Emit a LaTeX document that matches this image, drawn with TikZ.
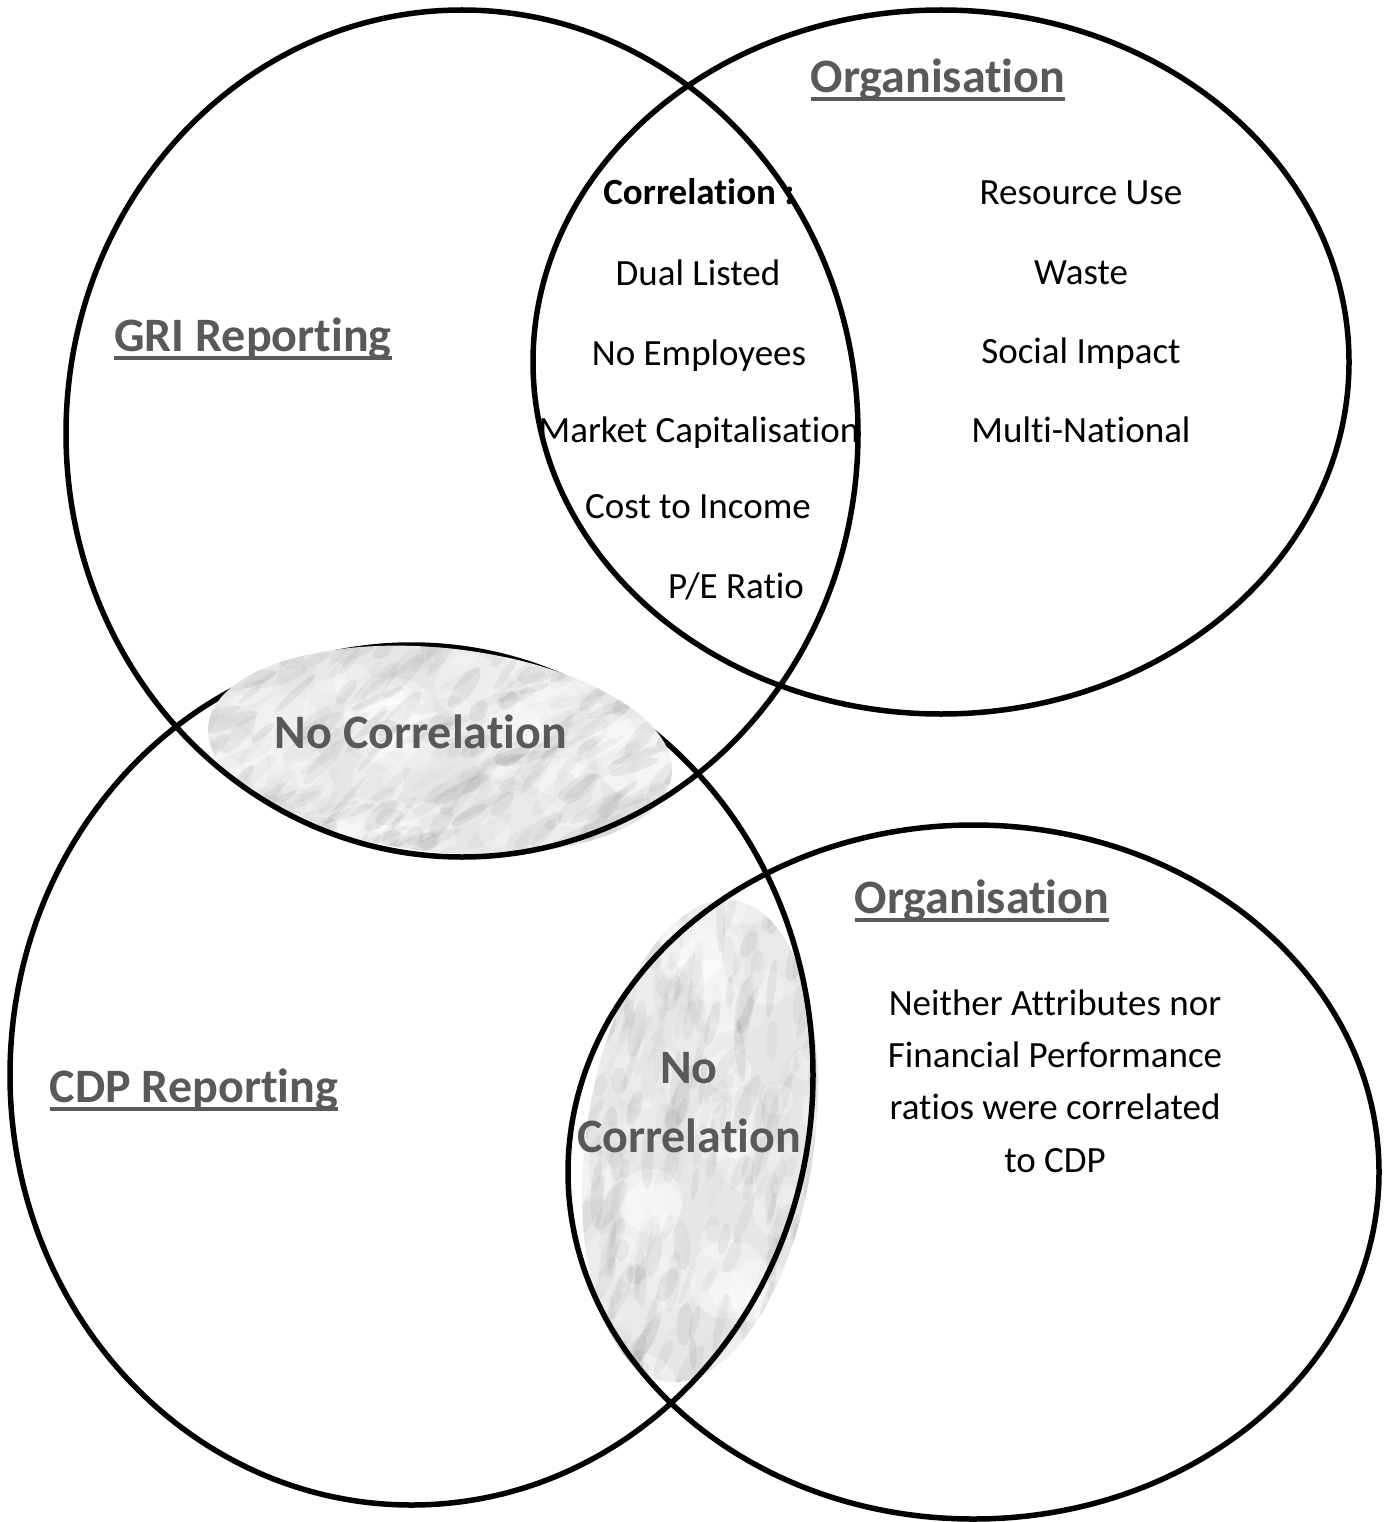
\documentclass[tikz,border=0pt]{standalone}
\usepackage{fontspec}
\setmainfont{Carlito}[Ligatures={NoCommon,NoContextual,NoRare},Contextuals=NoAlternate]
\definecolor{titlegray}{HTML}{595959}
\definecolor{blobgray}{HTML}{E6E6E6}
\begin{document}
\begin{tikzpicture}[x=1pt,y=-1pt,
  ring/.style={draw=black,line width=5.5pt},
  body/.style={font=\fontsize{37}{52.3}\selectfont,anchor=base,inner sep=0pt},
  bodyb/.style={font=\fontsize{37}{52.3}\selectfont\bfseries,anchor=base,inner sep=0pt},
  title/.style={font=\fontsize{48}{69}\selectfont\bfseries,text=titlegray,anchor=base,inner sep=0pt},
  uline/.style={draw=titlegray,line width=4pt},
  streak/.style={fill=black},
  glow/.style={fill=white}]
\useasboundingbox (0,0) rectangle (1391,1522);
\fill[white] (0,0) rectangle (1391,1522);

% ---- textured blob 2 (lower lens)
\begin{scope}
  \clip[rotate around={-8:(700,1141)}] (700,1141) ellipse [x radius=114, y radius=243];
  \fill[blobgray] (540,870) rectangle (860,1410);
  \pgfmathsetseed{11}
  \foreach \k in {1,...,70}{
    \pgfmathsetmacro\px{560+280*rnd}
    \pgfmathsetmacro\py{880+520*rnd}
    \pgfmathsetmacro\op{0.12+0.25*rnd}
    \pgfmathsetmacro\len{15+25*rnd}
    \fill[glow,opacity=\op] (\px,\py) circle [radius=\len];
  }
  \foreach \k in {1,...,280}{
    \pgfmathsetmacro\px{560+280*rnd}
    \pgfmathsetmacro\py{880+520*rnd}
    \pgfmathsetmacro\ang{60+35*rnd}
    \pgfmathsetmacro\op{0.015+0.04*rnd}
    \pgfmathsetmacro\len{10+24*rnd}
    \pgfmathsetmacro\wid{3+6*rnd}
    \fill[streak,opacity=\op,rotate around={\ang:(\px,\py)}] (\px,\py) ellipse [x radius=\len, y radius=\wid];
  }
\end{scope}

% ---- lower circles
\draw[ring] (411.5,1075) ellipse [x radius=401.5, y radius=430];
\draw[ring] (973.5,1172) ellipse [x radius=405.5, y radius=347];

% ---- textured blob 1 (upper lens)
\begin{scope}
  \clip[rotate around={-6:(440,750)}] (440,750) ellipse [x radius=233, y radius=102];
  \fill[blobgray] (190,630) rectangle (700,870);
  \pgfmathsetseed{5}
  \foreach \k in {1,...,70}{
    \pgfmathsetmacro\px{200+480*rnd}
    \pgfmathsetmacro\py{640+220*rnd}
    \pgfmathsetmacro\op{0.12+0.25*rnd}
    \pgfmathsetmacro\len{15+25*rnd}
    \fill[glow,opacity=\op] (\px,\py) circle [radius=\len];
  }
  \foreach \k in {1,...,280}{
    \pgfmathsetmacro\px{200+480*rnd}
    \pgfmathsetmacro\py{640+220*rnd}
    \pgfmathsetmacro\ang{15+40*rnd}
    \pgfmathsetmacro\op{0.015+0.04*rnd}
    \pgfmathsetmacro\len{10+24*rnd}
    \pgfmathsetmacro\wid{3+6*rnd}
    \fill[streak,opacity=\op,rotate around={\ang:(\px,\py)}] (\px,\py) ellipse [x radius=\len, y radius=\wid];
  }
\end{scope}

% ---- upper circles
\draw[ring] (462,433.5) ellipse [x radius=396, y radius=423.5];
\draw[ring] (941,362) ellipse [x radius=408, y radius=352];

% ---- titles
\node[title] (orgtop) at (938,93) {Organisation};
\draw[uline] ([yshift=-6.5pt]orgtop.base west) -- ([yshift=-6.5pt]orgtop.base east);
\node[title] (gri) at (253,351) {GRI Reporting};
\draw[uline] ([yshift=-6.5pt]gri.base west) -- ([yshift=-6.5pt]gri.base east);
\node[title] (orgbot) at (982,913) {Organisation};
\draw[uline] ([yshift=-6.5pt]orgbot.base west) -- ([yshift=-6.5pt]orgbot.base east);
\node[title] (cdp) at (194,1102) {CDP Reporting};
\draw[uline] ([yshift=-6.5pt]cdp.base west) -- ([yshift=-6.5pt]cdp.base east);

% ---- correlation list
\node[bodyb] (corr) at (699,205) {Correlation :};
\node[body] (dual) at (698,285) {Dual Listed};
\node[body] (emp) at (699,365) {No Employees};
\node[body] (mcap) at (699,442) {Market Capitalisation};
\node[body] (cti) at (698,518) {Cost to Income};
\node[body] (pe) at (736,598) {P/E Ratio};

% ---- organisation attributes
\node[body] (res) at (1081,205) {Resource Use};
\node[body] (waste) at (1081,284) {Waste};
\node[body] (soc) at (1081,363) {Social Impact};
\node[body] (multi) at (1081,442) {Multi-National};

% ---- no correlation labels (base anchor = last line)
\node[title] (nc1) at (421,748) {No Correlation};
\node[title,align=center] (nc2) at (689,1152) {No\\Correlation};

% ---- paragraph (base anchor = last line)
\node[body,align=center] (para) at (1055,1172) {Neither Attributes nor\\Financial Performance\\ratios were correlated\\to CDP};
\end{tikzpicture}
\end{document}
